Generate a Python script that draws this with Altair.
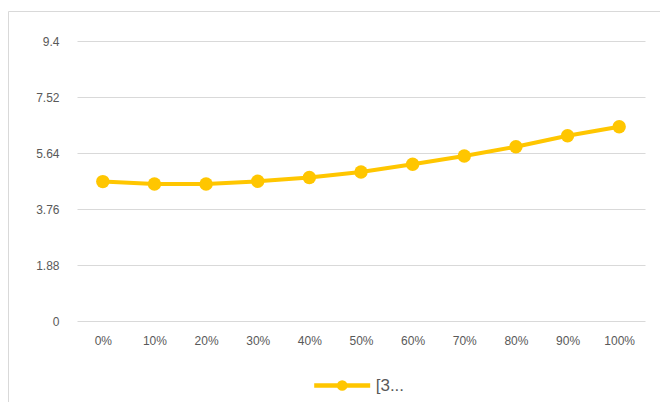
import altair as alt
import pandas as pd

categories = ["0%", "10%", "20%", "30%", "40%", "50%", "60%", "70%", "80%", "90%", "100%"]
values = [4.68, 4.60, 4.60, 4.69, 4.82, 5.00, 5.26, 5.54, 5.85, 6.22, 6.52]
series_name = "[3..."
y_ticks = [0, 1.88, 3.76, 5.64, 7.52, 9.4]

df = pd.DataFrame({"cat": categories, "val": values, "series": [series_name] * len(categories)})

GOLD = "#FFC600"
FONT = "Liberation Sans"
TXT = "#595959"

legend_path = ("M-2,0L2,0M0.22,0A0.22,0.22,0,1,1,-0.22,0"
               "A0.22,0.22,0,1,1,0.22,0Z")

line = alt.Chart(df).mark_line(
    strokeWidth=4,
    point=alt.OverlayMarkDef(filled=True, size=180, color=GOLD, opacity=1),
).encode(
    x=alt.X("cat:N", sort=categories, title=None,
            scale=alt.Scale(type="point", padding=0.5),
            axis=alt.Axis(labelAngle=0, grid=False, domain=False, ticks=False,
                          labelPadding=14, labelFont=FONT, labelFontSize=12,
                          labelColor=TXT)),
    y=alt.Y("val:Q", title=None,
            scale=alt.Scale(domain=[0, 9.4], nice=False, zero=True),
            axis=alt.Axis(values=y_ticks, grid=True, gridColor="#D9D9D9",
                          gridWidth=1, domain=False, ticks=False, tickSize=0,
                          labelPadding=18, labelFont=FONT, labelFontSize=12,
                          labelColor=TXT, labelExpr="toString(datum.value)")),
    color=alt.Color("series:N", scale=alt.Scale(range=[GOLD]),
                    legend=alt.Legend(title=None, orient="none", legendX=248.7,
                                      legendY=328, padding=0,
                                      symbolType=legend_path, symbolSize=784,
                                      symbolStrokeWidth=4.5, symbolStrokeColor=GOLD,
                                      labelOffset=17, labelFont=FONT,
                                      labelFontSize=17, labelColor=TXT)),
)

border = alt.Chart(pd.DataFrame({"a": [0]})).mark_rect(
    fill="transparent", stroke="#D9D9D9", strokeWidth=1
).encode(
    x=alt.value(-68.5), x2=alt.value(700),
    y=alt.value(-29.5), y2=alt.value(500),
)

chart = alt.layer(border, line).properties(
    width=568, height=280,
    padding={"left": 69, "top": 33, "right": 15, "bottom": 81},
    autosize=alt.AutoSizeParams(type="none"),
    background="white",
).configure_view(stroke=None)

chart.save("out.html", embed_options={"renderer": "svg", "actions": False})
